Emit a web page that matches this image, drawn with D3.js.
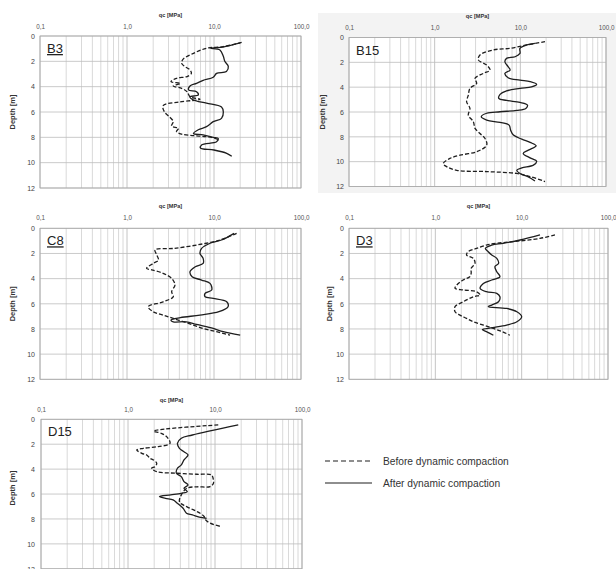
<!DOCTYPE html>
<html>
<head>
<meta charset="utf-8">
<script src="https://cdn.jsdelivr.net/npm/d3@7"></script>
<style>
  body { margin: 0; background: #fff; }
  svg { display: block; font-family: "Liberation Sans", Arial, sans-serif; }
</style>
</head>
<body>
<div id="chart"></div>
<script>
// axis values
const qcTicks = [0.1, 1, 10, 100]
const qcTickLabels = ["0,1", "1,0", "10,0", "100,0"]
const depthTicks = [0, 2, 4, 6, 8, 10, 12]
const panelNames = ["B3", "B15", "C8", "D3", "D15"]
const seriesNames = ["Before dynamic compaction", "After dynamic compaction"]

// CPT profiles, [depth m, qc MPa]
const b3Before = [[0.5,20.8],[0.84,12.8],[0.97,8.2],[1.37,5.8],[1.84,4.4],[2.16,4.25],[2.42,4.65],[2.68,5.3],[2.95,5.5],[3.2,4.9],[3.34,3.7],[3.6,3.2],[3.74,4.1],[3.95,3.4],[4.13,4.25],[4.4,4.9],[4.8,5.3],[5.0,6.9],[5.2,4.05],[5.5,2.6],[6.0,2.7],[6.4,3.1],[6.75,3.4],[7.1,3.25],[7.3,3.9],[7.55,3.7],[7.75,4.25],[7.87,5.8],[7.95,8.2],[8.1,10.5],[8.25,11.5]]
const b3After = [[0.55,20],[0.85,13],[0.97,9.2],[1.1,11.7],[1.6,12.8],[2.0,13.3],[2.4,14.6],[2.8,13.9],[2.95,10.7],[3.26,9.8],[3.5,7.5],[3.74,6.3],[3.95,5.3],[4.26,5.1],[4.4,6.3],[4.66,6.6],[4.8,5.3],[5.05,5.8],[5.3,8.2],[5.6,12.2],[6.0,12.8],[6.5,12.2],[6.76,9.8],[7.16,8.2],[7.4,6.6],[7.7,5.8],[7.8,7.5],[8.0,9.8],[8.1,11.2],[8.35,10.7],[8.6,7.2],[8.85,7.0],[9.0,10],[9.26,14],[9.5,16]]

const b15Before = [[0.34,19.4],[0.6,11.9],[0.87,7.6],[1.0,4.84],[1.41,3.38],[1.8,3.23],[2.22,4.05],[2.62,4.43],[2.89,3.7],[3.29,2.96],[3.7,3.09],[4.1,2.58],[4.64,2.47],[5.17,2.36],[5.71,2.58],[6.25,2.47],[6.79,2.83],[7.32,2.96],[7.73,3.38],[8.13,3.87],[8.67,4.05],[9.2,3.09],[9.48,1.98],[9.74,1.51],[10.15,1.26],[10.4,1.38],[10.7,1.81],[10.8,4.05],[10.95,9.06],[11.2,13],[11.6,19.4]]
const b15After = [[0.47,14.8],[0.6,11.9],[0.87,9.9],[1.28,9.9],[1.55,8.7],[1.68,6.9],[1.95,6.6],[2.35,7.2],[2.62,7.6],[2.89,6.6],[3.24,7.2],[3.43,9.9],[3.56,13],[3.78,15.5],[3.97,13.5],[4.1,9.9],[4.3,6.9],[4.58,5.8],[4.9,5.6],[5.07,6.9],[5.23,9.9],[5.44,12.1],[5.71,11.6],[5.87,9.1],[5.98,5.8],[6.1,4.05],[6.38,3.5],[6.65,4.05],[6.84,5.8],[7.06,7.4],[7.46,7.7],[7.86,8.3],[8.19,10.4],[8.45,13],[8.72,15.3],[9.07,12.4],[9.34,10.8],[9.69,13],[9.96,15.5],[10.28,14.2],[10.5,10.4],[10.69,9.1],[10.95,9.9],[11.22,12.4],[11.55,14.8]]

const c8Before = [[0.4,18.2],[0.93,11.7],[1.33,6.3],[1.6,3.4],[1.72,2.1],[2.12,2.2],[2.52,2.3],[2.79,2.0],[3.18,1.68],[3.3,1.92],[3.58,2.6],[3.98,3.26],[4.5,3.56],[5.04,3.26],[5.44,3.4],[5.84,2.6],[6.23,1.75],[6.63,2.0],[6.9,2.6],[7.16,3.4],[7.56,5.07],[7.96,7.5],[8.22,10.7],[8.49,15.3]]
const c8After = [[0.4,17],[0.93,12.2],[1.19,9],[1.6,7.2],[1.99,6.9],[2.39,7.5],[2.79,7.5],[3.05,6.1],[3.45,5.3],[3.85,5.6],[4.11,7.2],[4.38,9],[4.91,9.4],[5.17,7.9],[5.44,7.9],[5.57,9.8],[5.84,14],[6.23,14.5],[6.63,11.4],[6.9,6.9],[7.1,4.1],[7.29,3.2],[7.43,3.4],[7.43,4.8],[7.64,6.3],[7.96,9.8],[8.22,12.8],[8.49,20]]

const d3Before = [[0.53,24.3],[0.8,16.3],[1.06,8],[1.19,5.15],[1.33,3.9],[1.6,3.0],[1.86,2.4],[2.12,2.3],[2.39,2.75],[2.79,2.88],[3.18,2.6],[3.58,2.6],[3.85,2.5],[4.11,2.1],[4.51,1.77],[4.77,1.69],[4.9,2.1],[5.04,3.0],[5.3,3.3],[5.44,2.75],[5.84,2.1],[6.23,1.69],[6.63,1.69],[6.9,1.93],[7.16,2.3],[7.43,2.75],[7.69,3.6],[7.96,4.7],[8.22,6.0],[8.5,7.3]]
const d3After = [[0.53,16.3],[0.93,9.6],[1.19,6.1],[1.33,4.5],[1.6,3.8],[1.86,4.1],[2.12,4.5],[2.39,5.15],[2.79,5.4],[3.05,4.9],[3.45,5.15],[3.85,5.6],[4.11,4.5],[4.38,3.6],[4.77,3.3],[5.04,3.9],[5.17,5.15],[5.44,5.6],[5.84,5.4],[6.1,4.5],[6.23,4.1],[6.37,6.7],[6.63,8.8],[7.03,10],[7.43,8.8],[7.69,6.7],[7.9,4.6],[8.05,3.5],[8.25,4.0],[8.5,4.7]]

const d15Before = [[0.45,10.9],[0.94,1.97],[1.12,2.4],[1.39,2.78],[1.93,3.04],[2.19,2.23],[2.33,1.5],[2.46,1.26],[2.73,1.44],[2.86,1.64],[3.13,1.79],[3.26,1.96],[3.53,2.14],[3.8,2.04],[3.93,1.87],[4.2,2.14],[4.33,3.62],[4.41,6.2],[4.47,9.1],[4.87,9.6],[5.13,9.6],[5.4,8.8],[5.42,6.2],[5.53,4.75],[6.07,4.1],[6.6,3.9],[6.87,4.3],[7.14,5.15],[7.4,6.2],[7.8,7.5],[8.07,7.8],[8.34,8.8],[8.6,11.6]]
const d15After = [[0.45,18.5],[1.26,5.5],[1.52,4.1],[1.93,3.7],[2.33,3.9],[2.6,4.4],[2.86,4.9],[3.26,4.4],[3.66,4.1],[3.93,3.7],[4.33,3.6],[4.6,4.1],[5.0,4.4],[5.27,4.9],[5.53,4.4],[5.8,4.8],[5.94,4.1],[6.07,3.1],[6.2,2.3],[6.34,2.7],[6.47,3.3],[6.74,3.7],[7.14,4.3],[7.54,4.7],[7.67,5.5],[7.85,6.6],[7.95,8]]

const profiles = {
  B3: [b3Before, b3After],
  B15: [b15Before, b15After],
  C8: [c8Before, c8After],
  D3: [d3Before, d3After],
  D15: [d15Before, d15After]
}

// panel placement in the 616x569 picture
const layout = {
  B3:  { x0: 40,  x1: 301, y0: 36,    y1: 188,   title: 15,  ticks: 29,  depthX: 35,  label: 12,  underline: true },
  B15: { x0: 349, x1: 606, y0: 37.5,  y1: 186.5, title: 16,  ticks: 30,  depthX: 344, label: 322, underline: false, bg: [318, 13, 298, 180] },
  C8:  { x0: 40,  x1: 301, y0: 228.3, y1: 379.3, title: 206, ticks: 220, depthX: 35,  label: 12,  underline: true },
  D3:  { x0: 349, x1: 608, y0: 228.3, y1: 379.3, title: 206, ticks: 220, depthX: 344, label: 329, underline: true },
  D15: { x0: 41,  x1: 302, y0: 419.3, y1: 568.8, title: 400, ticks: 412, depthX: 35,  label: 12,  underline: false }
}

const W = 616, H = 569
const ink = "#1e1e1e"

const svg = d3.select("#chart").append("svg")
    .attr("width", W)
    .attr("height", H)

panelNames.forEach(name => {
    const L = layout[name]
    const g = svg.append("g")

    if (L.bg) {
        g.append("rect")
            .attr("x", L.bg[0]).attr("y", L.bg[1])
            .attr("width", L.bg[2]).attr("height", L.bg[3])
            .attr("fill", "#f3f3f3")
    }

    const x = d3.scaleLog().domain([0.1, 100]).range([L.x0, L.x1])
    const y = d3.scaleLinear().domain([0, 12]).range([L.y0, L.y1])

    g.append("rect")
        .attr("x", L.x0).attr("y", L.y0)
        .attr("width", L.x1 - L.x0).attr("height", L.y1 - L.y0)
        .attr("fill", "#fff")

    // log grid 1..9 per decade
    g.selectAll(".vgrid")
        .data(x.ticks())
        .join("line")
        .attr("x1", d => x(d)).attr("x2", d => x(d))
        .attr("y1", L.y0).attr("y2", L.y1)
        .attr("stroke", d => qcTicks.includes(d) ? "#b5b5b5" : "#cfcfcf")
        .attr("stroke-width", 0.8)

    g.selectAll(".hgrid")
        .data(depthTicks)
        .join("line")
        .attr("x1", L.x0).attr("x2", L.x1)
        .attr("y1", d => y(d)).attr("y2", d => y(d))
        .attr("stroke", "#bdbdbd")
        .attr("stroke-width", 0.8)

    g.append("rect")
        .attr("x", L.x0).attr("y", L.y0)
        .attr("width", L.x1 - L.x0).attr("height", L.y1 - L.y0)
        .attr("fill", "none")
        .attr("stroke", "#a8a8a8")
        .attr("stroke-width", 0.8)

    // top axis labels
    const top = g.append("g")
        .attr("transform", `translate(0,${L.y0})`)
        .call(d3.axisTop(x).tickValues(qcTicks)
            .tickFormat((d, i) => qcTickLabels[i])
            .tickSize(0).tickPadding(L.y0 - L.ticks))
    top.select(".domain").remove()
    top.selectAll("text")
        .attr("font-size", 6.3)
        .attr("font-family", "Liberation Sans, Arial, sans-serif")
        .attr("fill", "#555")

    const left = g.append("g")
        .attr("transform", `translate(${L.x0},0)`)
        .call(d3.axisLeft(y).tickValues(depthTicks)
            .tickSize(0).tickPadding(L.x0 - L.depthX))
    left.select(".domain").remove()
    left.selectAll("text")
        .attr("font-size", 7)
        .attr("font-family", "Liberation Sans, Arial, sans-serif")
        .attr("fill", "#444")

    g.append("text")
        .attr("x", (L.x0 + L.x1) / 2)
        .attr("y", L.title + 2)
        .attr("text-anchor", "middle")
        .attr("font-size", 5.6)
        .attr("font-weight", "bold")
        .attr("fill", "#333")
        .text("qc [MPa]")

    g.append("text")
        .attr("transform", `translate(${L.label},${(L.y0 + Math.min(L.y1, 569 + 12)) / 2 + (name === "D15" ? -6 : 0)}) rotate(-90)`)
        .attr("dy", "0.35em")
        .attr("text-anchor", "middle")
        .attr("font-size", 7.5)
        .attr("font-weight", "bold")
        .attr("fill", "#333")
        .text("Depth [m]")

    g.append("text")
        .attr("x", L.x0 + 7)
        .attr("y", L.y0 + 17)
        .attr("font-size", 13)
        .attr("fill", "#222")
        .attr("text-decoration", L.underline ? "underline" : null)
        .text(name)

    const line = d3.line()
        .x(d => x(d[1]))
        .y(d => y(d[0]))
        .curve(d3.curveCatmullRom.alpha(0.5))

    g.selectAll(".profile")
        .data(profiles[name])
        .join("path")
        .attr("d", line)
        .attr("fill", "none")
        .attr("stroke", ink)
        .attr("stroke-width", 1.3)
        .attr("stroke-dasharray", (d, i) => i === 0 ? "4,2" : null)
})

// legend
const legend = svg.append("g")
    .selectAll("g")
    .data(seriesNames)
    .join("g")
    .attr("transform", (d, i) => `translate(325,${461 + i * 22})`)

legend.append("line")
    .attr("x1", 0).attr("x2", 47)
    .attr("stroke", ink)
    .attr("stroke-width", 1.2)
    .attr("stroke-dasharray", (d, i) => i === 0 ? "5,3" : null)

legend.append("text")
    .attr("x", 58)
    .attr("dy", "0.35em")
    .attr("font-size", 10.2)
    .attr("fill", "#333")
    .text(d => d)
</script>
</body>
</html>
